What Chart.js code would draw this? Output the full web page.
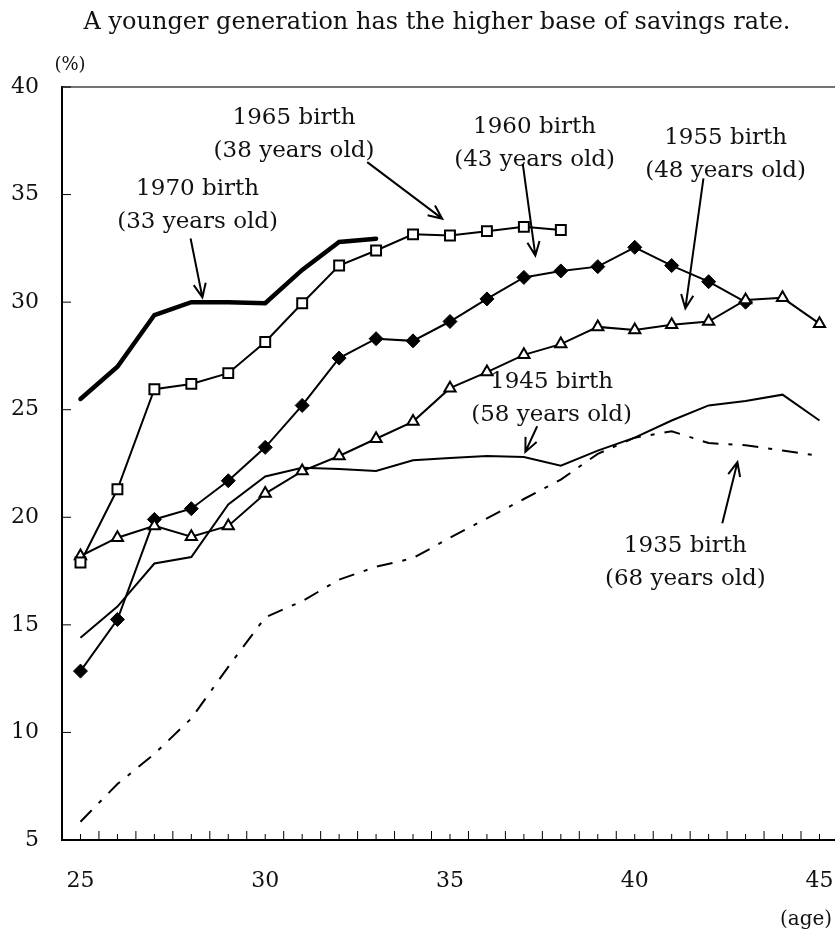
<!DOCTYPE html>
<html>
<head>
<meta charset="utf-8">
<script src="https://cdn.jsdelivr.net/npm/chart.js@4.4.1/dist/chart.umd.min.js"></script>
<style>
  html, body { margin: 0; padding: 0; background: #fff; }
  #wrap { width: 835px; height: 933px; position: relative; }
</style>
</head>
<body>
<div id="wrap"><canvas id="savingsChart"></canvas></div>
<script>
// Savings rate (%) by age, one series per birth cohort
const ages = [25, 26, 27, 28, 29, 30, 31, 32, 33, 34, 35, 36, 37, 38, 39, 40, 41, 42, 43, 44, 45];
const birth1970 = [25.5, 27.0, 29.4, 30.0, 30.0, 29.95, 31.5, 32.8, 32.95];
const birth1965 = [17.9, 21.3, 25.95, 26.2, 26.7, 28.15, 29.95, 31.7, 32.4, 33.15, 33.1, 33.3, 33.5, 33.35];
const birth1960 = [12.85, 15.25, 19.9, 20.4, 21.7, 23.25, 25.2, 27.4, 28.3, 28.2, 29.1, 30.15, 31.15, 31.45, 31.65, 32.55, 31.7, 30.95, 30.0];
const birth1955 = [18.2, 19.05, 19.6, 19.1, 19.6, 21.1, 22.15, 22.85, 23.65, 24.45, 26.0, 26.75, 27.55, 28.05, 28.85, 28.7, 28.95, 29.1, 30.1, 30.2, 29.0];
const birth1945 = [14.4, 15.85, 17.85, 18.15, 20.6, 21.9, 22.3, 22.25, 22.15, 22.65, 22.75, 22.85, 22.8, 22.4, 23.1, 23.7, 24.5, 25.2, 25.4, 25.7, 24.5];
const birth1935 = [5.85, 7.6, 9.0, 10.65, 13.05, 15.35, 16.1, 17.1, 17.7, 18.1, 19.05, 19.95, 20.85, 21.75, 22.95, 23.7, 24.0, 23.45, 23.35, 23.1, 22.85];

const xTickLabels = [25, 30, 35, 40, 45];
const yTickLabels = [5, 10, 15, 20, 25, 30, 35, 40];

const titleText = 'A younger generation has the higher base of savings rate.';
const yUnit = '(%)';
const xUnit = '(age)';

// Callouts: text anchor and arrow (tail -> head) in [age, rate] units
const noteLines = [
  ['1970 birth', '(33 years old)'],
  ['1965 birth', '(38 years old)'],
  ['1960 birth', '(43 years old)'],
  ['1955 birth', '(48 years old)'],
  ['1945 birth', '(58 years old)'],
  ['1935 birth', '(68 years old)']
];
const noteAnchors = [[28.17, 34.96], [30.78, 38.30], [37.29, 37.88], [42.46, 37.37], [37.75, 25.99], [41.37, 18.38]];
const noteArrows = [
  [[27.98, 32.96], [28.30, 30.22]],
  [[32.76, 36.51], [34.79, 33.88]],
  [[36.97, 36.43], [37.31, 32.17]],
  [[41.86, 35.75], [41.37, 29.71]],
  [[37.36, 24.23], [37.04, 23.04]],
  [[42.37, 19.72], [42.78, 22.56]]
];

const SERIF = "'DejaVu Serif', 'Liberation Serif', serif";
const INK = '#111';

const toPoints = vals => vals.map((v, i) => ({ x: ages[i], y: v }));

// Title, unit labels, inward ticks, top frame and callouts
const decorations = {
  id: 'decorations',
  afterDraw(chart) {
    const { ctx, chartArea: a, scales: { x, y } } = chart;
    ctx.save();

    ctx.fillStyle = INK;
    ctx.textAlign = 'center';
    ctx.textBaseline = 'alphabetic';
    ctx.font = '24px ' + SERIF;
    ctx.fillText(titleText, 437, 29);
    ctx.font = '18px ' + SERIF;
    ctx.fillText(yUnit, 70, 70);
    ctx.font = '20px ' + SERIF;
    ctx.fillText(xUnit, 806, 925);

    // top frame line
    ctx.strokeStyle = '#444';
    ctx.lineWidth = 1.5;
    ctx.beginPath();
    ctx.moveTo(a.left, a.top);
    ctx.lineTo(a.right, a.top);
    ctx.stroke();

    // inward tick marks
    ctx.strokeStyle = '#000';
    ctx.lineWidth = 1;
    ctx.beginPath();
    ages.forEach(age => {
      const px = x.getPixelForValue(age);
      ctx.moveTo(px, a.bottom);
      ctx.lineTo(px, a.bottom - 6);
      const hx = x.getPixelForValue(age + 0.5);
      if (hx < a.right) {
        ctx.moveTo(hx, a.bottom);
        ctx.lineTo(hx, a.bottom - 9);
      }
    });
    yTickLabels.forEach(v => {
      const py = y.getPixelForValue(v);
      ctx.moveTo(a.left, py);
      ctx.lineTo(a.left + 9, py);
    });
    ctx.stroke();

    // callouts
    ctx.font = '23px ' + SERIF;
    ctx.lineWidth = 2;
    noteLines.forEach((lines, i) => {
      const tx = x.getPixelForValue(noteAnchors[i][0]);
      const ty = y.getPixelForValue(noteAnchors[i][1]);
      lines.forEach((t, k) => ctx.fillText(t, tx, ty + k * 33));

      const [from, to] = noteArrows[i];
      const x0 = x.getPixelForValue(from[0]), y0 = y.getPixelForValue(from[1]);
      const x1 = x.getPixelForValue(to[0]), y1 = y.getPixelForValue(to[1]);
      const ang = Math.atan2(y1 - y0, x1 - x0);
      const head = 15, spread = 0.42;
      ctx.beginPath();
      ctx.moveTo(x0, y0);
      ctx.lineTo(x1, y1);
      ctx.moveTo(x1 - head * Math.cos(ang - spread), y1 - head * Math.sin(ang - spread));
      ctx.lineTo(x1, y1);
      ctx.lineTo(x1 - head * Math.cos(ang + spread), y1 - head * Math.sin(ang + spread));
      ctx.stroke();
    });

    ctx.restore();
  }
};

// no extra label-overflow padding: the plot runs to the right edge
const noPadding = s => {
  s.paddingLeft = 0;
  s.paddingRight = 0;
  s.paddingTop = 0;
  s.paddingBottom = 0;
};

const lineBase = { borderColor: '#000', borderWidth: 2, tension: 0, fill: false, pointRadius: 0 };

new Chart(document.getElementById('savingsChart'), {
  type: 'line',
  data: {
    datasets: [
      { ...lineBase, label: '1970 birth', data: toPoints(birth1970), borderWidth: 4.5, borderCapStyle: 'round' },
      { ...lineBase, label: '1965 birth', data: toPoints(birth1965), pointStyle: 'rect', pointRadius: 7,
        pointBackgroundColor: '#fff', pointBorderColor: '#000', pointBorderWidth: 2 },
      { ...lineBase, label: '1955 birth', data: toPoints(birth1955), pointStyle: 'triangle', pointRadius: 6.5,
        pointBackgroundColor: '#fff', pointBorderColor: '#000', pointBorderWidth: 2 },
      { ...lineBase, label: '1960 birth', data: toPoints(birth1960), pointStyle: 'rectRot', pointRadius: 7,
        pointBackgroundColor: '#000', pointBorderColor: '#000', pointBorderWidth: 1 },
      { ...lineBase, label: '1945 birth', data: toPoints(birth1945) },
      { ...lineBase, label: '1935 birth', data: toPoints(birth1935), borderDash: [16, 10, 4, 10] }
    ]
  },
  options: {
    responsive: true,
    maintainAspectRatio: false,
    animation: false,
    devicePixelRatio: 1,
    layout: { autoPadding: false, padding: { top: 87, left: 0, right: 0, bottom: 0 } },
    plugins: {
      legend: { display: false },
      tooltip: { enabled: false }
    },
    scales: {
      x: {
        type: 'linear',
        min: 24.5,
        max: 45.42,
        grid: { display: false, drawTicks: false },
        border: { display: true, color: '#000', width: 2 },
        ticks: { font: { family: SERIF, size: 22 }, color: INK, padding: 28 },
        afterBuildTicks: s => { s.ticks = xTickLabels.map(v => ({ value: v })); },
        afterFit: s => { s.height = 93; noPadding(s); }
      },
      y: {
        min: 5,
        max: 40,
        grid: { display: false, drawTicks: false },
        border: { display: true, color: '#000', width: 2 },
        ticks: { font: { family: SERIF, size: 22 }, color: INK, padding: 23 },
        afterBuildTicks: s => { s.ticks = yTickLabels.map(v => ({ value: v })); },
        afterFit: s => { s.width = 62; noPadding(s); }
      }
    }
  },
  plugins: [decorations]
});
</script>
</body>
</html>
